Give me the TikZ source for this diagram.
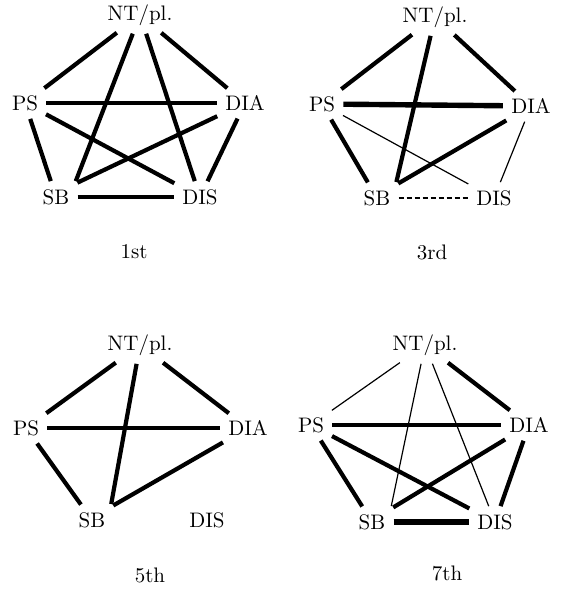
\documentclass[tikz,border=0pt]{standalone}
\usetikzlibrary{arrows.meta}

\begin{document}
\begin{tikzpicture}[x=0.5pt, y=-0.5pt,
	main/.style = {font=\fontsize{10.5pt}{12pt}\selectfont, inner sep=2.5pt},
	thk/.style = {line width=2.1pt, shorten <=1.5pt, shorten >=1.5pt},
	thn/.style = {line width=0.6pt, shorten <=1.5pt, shorten >=1.5pt},
	hvy/.style = {line width=2.7pt, shorten <=1.5pt, shorten >=1.5pt}]
		\useasboundingbox (0,0) rectangle (562,589);
		% 1st
		\node[main] (nt1) at (140,15) {NT/pl.};
		\node[main] (ps1) at (25,103) {PS};
		\node[main] (dia1) at (245,103) {DIA};
		\node[main] (sb1) at (56,197) {SB};
		\node[main] (dis1) at (200,197) {DIS};
		\node[main] (c1) at (134,252) {1st};
		\draw[thk] (nt1) -- (ps1);
		\draw[thk] (nt1) -- (dia1);
		\draw[thk] (nt1) -- (sb1.north east);
		\draw[thk] (nt1) -- (dis1);
		\draw[thk] (ps1) -- (dia1);
		\draw[thk] (ps1) -- (dis1);
		\draw[thk] (ps1) -- (sb1);
		\draw[thk] (dia1) -- (sb1.north east);
		\draw[thk] (dia1) -- (dis1);
		\draw[thk] (sb1) -- (dis1);
		% 3rd
		\node[main] (nt2) at (435,17) {NT/pl.};
		\node[main] (ps2) at (322,104) {PS};
		\node[main] (dia2) at (531,106) {DIA};
		\node[main] (sb2) at (377,198) {SB};
		\node[main] (dis2) at (494,198) {DIS};
		\node[main] (c2) at (432,252) {3rd};
		\draw[thk] (nt2) -- (ps2);
		\draw[thk] (nt2) -- (dia2);
		\draw[thk] (nt2) -- (sb2.north east);
		\draw[hvy] (ps2) -- (dia2);
		\draw[thk] (ps2) -- (sb2);
		\draw[thn] (ps2) -- (dis2);
		\draw[thk] (dia2) -- (sb2.north east);
		\draw[thn] (dia2) -- (dis2);
		\draw[thn, dash pattern=on 2.5pt off 1.5pt] (sb2) -- (dis2);
		% 5th
		\node[main] (nt3) at (140,345) {NT/pl.};
		\node[main] (ps3) at (26,428) {PS};
		\node[main] (dia3) at (248,428) {DIA};
		\node[main] (sb3) at (92,520) {SB};
		\node[main] (dis3) at (207,520) {DIS};
		\node[main] (c3) at (150,575) {5th};
		\draw[thk] (nt3) -- (ps3);
		\draw[thk] (nt3) -- (dia3);
		\draw[thk] (nt3) -- (sb3.north east);
		\draw[thk] (ps3) -- (dia3);
		\draw[thk] (ps3) -- (sb3);
		\draw[thk] (dia3) -- (sb3.north east);
		% 7th
		\node[main] (nt4) at (425,345) {NT/pl.};
		\node[main] (ps4) at (311,425) {PS};
		\node[main] (dia4) at (529,425) {DIA};
		\node[main] (sb4) at (372,522) {SB};
		\node[main] (dis4) at (495,522) {DIS};
		\node[main] (c4) at (447,573) {7th};
		\draw[thn] (nt4) -- (ps4);
		\draw[thk] (nt4) -- (dia4);
		\draw[thn] (nt4) -- (sb4.north east);
		\draw[thn] (nt4) -- (dis4);
		\draw[thk] (ps4) -- (dia4);
		\draw[thk] (ps4) -- (sb4);
		\draw[thk] (ps4) -- (dis4);
		\draw[thk] (dia4) -- (sb4.north east);
		\draw[thk] (dia4) -- (dis4);
		\draw[hvy] (sb4) -- (dis4);
	\end{tikzpicture}
\end{document}
